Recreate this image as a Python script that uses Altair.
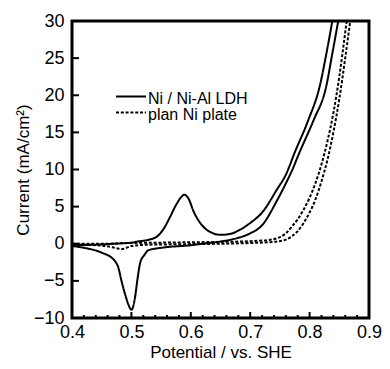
import altair as alt
import pandas as pd

# Ni / Ni-Al LDH, anodic-going sweep (upper branch)
ldh_a_x = [0.40, 0.43, 0.46, 0.48, 0.50, 0.51, 0.53, 0.545, 0.555, 0.565, 0.575, 0.583, 0.589, 0.596,
           0.605, 0.615, 0.625, 0.635, 0.65, 0.665, 0.683, 0.70, 0.72, 0.745, 0.76, 0.775, 0.798,
           0.817, 0.828, 0.840]
ldh_a_i = [-0.2, -0.15, -0.05, 0.05, 0.15, 0.3, 0.55, 1.1, 2.1, 3.6, 5.2, 6.2, 6.6, 6.1,
           4.3, 2.9, 2.0, 1.5, 1.2, 1.3, 1.9, 2.8, 4.2, 7.3, 9.3, 12.3, 16.7,
           21.2, 25.5, 30.8]

# Ni / Ni-Al LDH, cathodic-going sweep (lower branch)
ldh_b_x = [0.850, 0.838, 0.828, 0.807, 0.783, 0.77, 0.758, 0.745, 0.72, 0.70, 0.68, 0.65, 0.62,
           0.60, 0.56, 0.545, 0.528, 0.522, 0.515, 0.51, 0.506, 0.50, 0.495, 0.492, 0.483,
           0.478, 0.473, 0.467, 0.45, 0.417, 0.40]
ldh_b_i = [30.8, 25.5, 21.2, 16.7, 12.3, 9.8, 7.8, 5.8, 2.5, 1.4, 0.8, 0.3, 0.0,
           -0.2, -0.45, -0.6, -0.9, -1.5, -2.5, -4.9, -7.3, -8.9, -8.2, -7.5, -4.9,
           -3.2, -2.4, -1.9, -1.2, -0.5, -0.3]

# plan Ni plate, two sweeps
ni_a_x = [0.40, 0.45, 0.50, 0.55, 0.60, 0.65, 0.70, 0.73, 0.75, 0.76, 0.77, 0.78, 0.79, 0.80,
          0.81, 0.82, 0.83, 0.84, 0.85, 0.86, 0.864]
ni_a_i = [0.0, 0.0, 0.1, 0.15, 0.2, 0.25, 0.35, 0.5, 0.9, 1.4, 2.3, 3.3, 4.6, 6.2,
          8.2, 10.7, 13.8, 17.6, 22.5, 28.5, 31.0]

ni_b_x = [0.870, 0.86, 0.85, 0.84, 0.83, 0.82, 0.81, 0.80, 0.79, 0.78, 0.77, 0.76, 0.74, 0.70,
          0.65, 0.60, 0.55, 0.52, 0.50, 0.49, 0.485, 0.475, 0.46, 0.44, 0.40]
ni_b_i = [31.0, 25.0, 19.5, 15.0, 11.3, 8.4, 6.0, 4.2, 2.8, 1.7, 1.0, 0.55, 0.25, 0.1,
          0.0, -0.05, -0.1, -0.15, -0.3, -0.6, -0.7, -0.6, -0.35, -0.2, -0.1]

samples = ["Ni / Ni-Al LDH", "plan Ni plate"]

x_labels = [0.4, 0.5, 0.6, 0.7, 0.8, 0.9]
y_labels = [-10, -5, 0, 5, 10, 15, 20, 25, 30]
x_major = [0.5, 0.6, 0.7, 0.8]
x_minor = [0.42, 0.44, 0.46, 0.48, 0.52, 0.54, 0.56, 0.58, 0.62, 0.64, 0.66, 0.68,
           0.72, 0.74, 0.76, 0.78, 0.82, 0.84, 0.86, 0.88]
y_major = [-5, 0, 5, 10, 15, 20, 25]

rows = []
for name, sweep, xs, ys in [
    (samples[0], "a", ldh_a_x, ldh_a_i),
    (samples[0], "b", ldh_b_x, ldh_b_i),
    (samples[1], "a", ni_a_x, ni_a_i),
    (samples[1], "b", ni_b_x, ni_b_i),
]:
    for k, (px, cy) in enumerate(zip(xs, ys)):
        rows.append({"potential": px, "current": cy, "sample": name,
                     "sweep": name + sweep, "idx": k})
df = pd.DataFrame(rows)

FONT = "Liberation Sans"
W, H = 297, 297

xscale = alt.Scale(domain=[0.4, 0.9], nice=False, zero=False)
yscale = alt.Scale(domain=[-10, 30], nice=False, zero=False)
x_axis = alt.Axis(values=x_labels, format=".1f", labelOverlap=False,
                  labelFlush=False, title="Potential / vs. SHE")
y_axis = alt.Axis(values=y_labels, format="d", labelOverlap=False,
                  labelFlush=False, title="Current (mA/cm²)")

lines = alt.Chart(df).mark_line(color="black", strokeWidth=2, clip=True,
                                interpolate="monotone").encode(
    x=alt.X("potential:Q", scale=xscale, axis=x_axis),
    y=alt.Y("current:Q", scale=yscale, axis=y_axis),
    strokeDash=alt.StrokeDash("sample:N",
                              scale=alt.Scale(domain=samples, range=[[1, 0], [3, 1.8]]),
                              legend=alt.Legend(title=None, orient="none",
                                                legendX=51, legendY=70)),
    detail="sweep:N",
    order="idx:Q",
)

xt_major = alt.Chart(pd.DataFrame({"v": x_major})).mark_rule(
    color="black", strokeWidth=2).encode(
    x=alt.X("v:Q", scale=xscale, axis=x_axis), y=alt.value(H), y2=alt.value(H - 6))
xt_minor = alt.Chart(pd.DataFrame({"v": x_minor})).mark_rule(
    color="black", strokeWidth=2).encode(
    x=alt.X("v:Q", scale=xscale, axis=x_axis), y=alt.value(H), y2=alt.value(H - 3))
yt_major = alt.Chart(pd.DataFrame({"v": y_major})).mark_rule(
    color="black", strokeWidth=2).encode(
    y=alt.Y("v:Q", scale=yscale, axis=y_axis), x=alt.value(0), x2=alt.value(7))

chart = alt.layer(lines, xt_major, xt_minor, yt_major).properties(
    width=W, height=H,
    autosize=alt.AutoSizeParams(type="none"),
    padding={"left": 64, "top": 13, "right": 13, "bottom": 43},
).configure_view(
    stroke="black", strokeWidth=3
).configure_axis(
    domain=False, ticks=False, grid=False,
    labelFont=FONT, labelFontSize=18, labelColor="black",
    labelFlush=False, labelOverlap=False,
    titleFont=FONT, titleFontSize=17, titleFontWeight="normal", titleColor="black",
).configure_axisX(
    labelPadding=5, titlePadding=3,
).configure_axisY(
    labelPadding=8, titlePadding=1,
).configure_legend(
    symbolType="M-3,-0.5H3", symbolSize=100, symbolStrokeWidth=2,
    symbolStrokeColor="black", labelFont=FONT, labelFontSize=16,
    labelColor="black", labelOffset=9, padding=0, rowPadding=0,
)

chart.save("out.html", embed_options={"renderer": "svg", "actions": False})
